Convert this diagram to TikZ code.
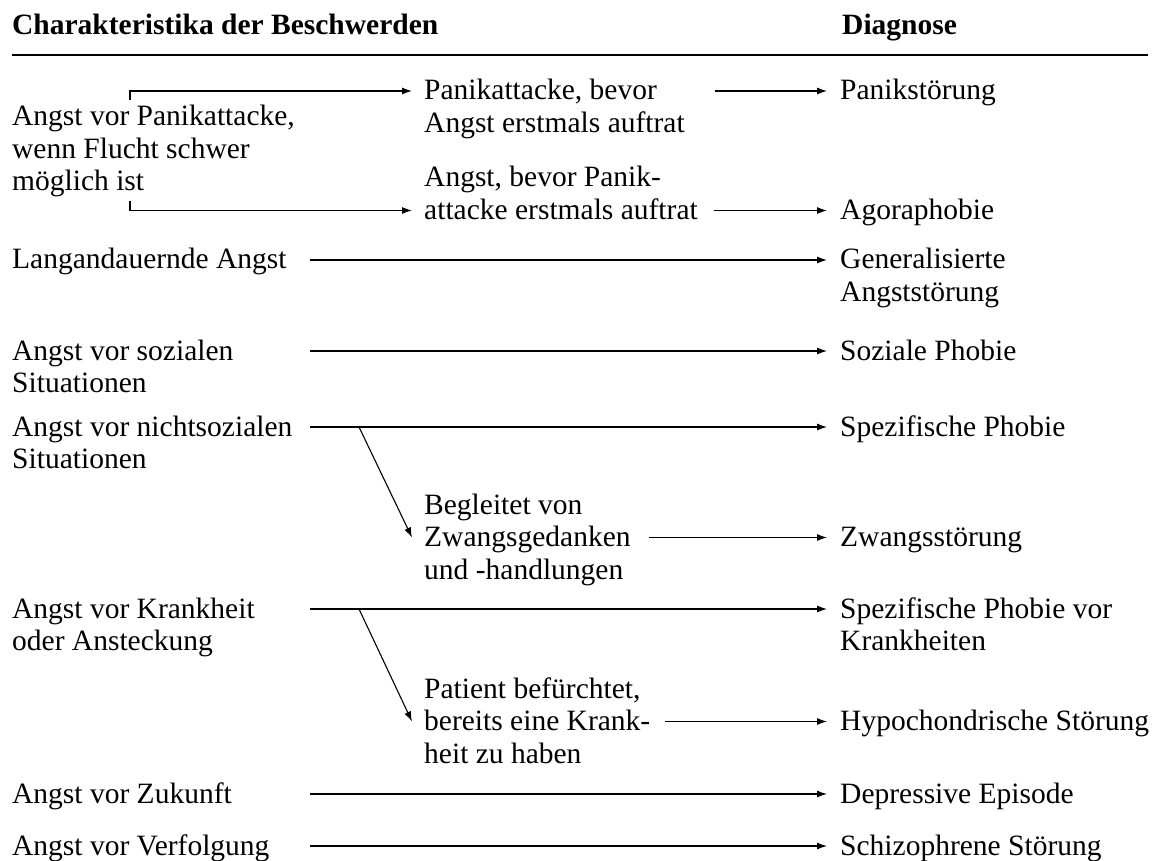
\documentclass[tikz,border=0pt]{standalone}
\usepackage{fontspec}
\setmainfont{Liberation Serif}
\usetikzlibrary{arrows.meta,calc}
\newcommand{\ml}[1]{\begin{tabular}[t]{@{}l@{}}#1\end{tabular}}
\begin{document}
\begin{tikzpicture}[x=1pt,y=-1pt,
  txt/.style={anchor=west,inner sep=0pt,text height=22pt,text depth=4pt,font=\fontsize{29.5}{32.5}\selectfont},
  hd/.style={txt,font=\fontsize{29.5}{32.5}\selectfont\bfseries},
  arr/.style={line width=1.1pt,-{Latex[length=10pt,width=7pt]}},
  rule/.style={line width=2pt}]
\useasboundingbox (0,0) rectangle (1154,861);
% header
\node[hd] (h1) at (12,26) {Charakteristika der Beschwerden};
\node[hd] (h2) at (842,26) {Diagnose};
\coordinate (r1) at (12,55);
\coordinate (r2) at (1148,55);
\draw[rule] (r1) -- (r2);
% left column
\node[txt] (L1) at (12,117) {\ml{Angst vor Panikattacke,\\wenn Flucht schwer\\möglich ist}};
\node[txt] (L2) at (12,260) {Langandauernde Angst};
\node[txt] (L3) at (12,351) {\ml{Angst vor sozialen\\Situationen}};
\node[txt] (L4) at (12,427) {\ml{Angst vor nichtsozialen\\Situationen}};
\node[txt] (L5) at (12,609) {\ml{Angst vor Krankheit\\oder Ansteckung}};
\node[txt] (L6) at (12,794) {Angst vor Zukunft};
\node[txt] (L7) at (12,846) {Angst vor Verfolgung};
% middle column
\node[txt] (M1) at (424,91) {\ml{Panikattacke, bevor\\Angst erstmals auftrat}};
\node[txt] (M2) at (424,178) {\ml{Angst, bevor Panik-\\attacke erstmals auftrat}};
\node[txt] (M3) at (424,505) {\ml{Begleitet von\\Zwangsgedanken\\und -handlungen}};
\node[txt] (M4) at (424,689) {\ml{Patient befürchtet,\\bereits eine Krank-\\heit zu haben}};
% right column
\node[txt] (R1) at (840,91) {Panikstörung};
\node[txt] (R2) at (840,210.5) {Agoraphobie};
\node[txt] (R3) at (840,260) {\ml{Generalisierte\\Angststörung}};
\node[txt] (R4) at (840,351) {Soziale Phobie};
\node[txt] (R5) at (840,427) {Spezifische Phobie};
\node[txt] (R6) at (840,537.5) {Zwangsstörung};
\node[txt] (R7) at (840,609) {\ml{Spezifische Phobie vor\\Krankheiten}};
\node[txt] (R8) at (840,721.5) {Hypochondrische Störung};
\node[txt] (R9) at (840,794) {Depressive Episode};
\node[txt] (R10) at (840,846) {Schizophrene Störung};
% helper coordinates
\coordinate (xs) at (310,0);
\coordinate (dx) at (359,0);
\coordinate (bt) at (130,100);
\coordinate (bb) at (130,201);
% connectors
\draw[arr] (bt) |- ([xshift=-12pt]M1.west);
\draw[arr] (bb) |- ($(M2.west)+(-12,32.5)$);
\draw[arr] ($(M1.east)+(30,0)$) -- ([xshift=-13pt]R1.west);
\draw[arr] ($(R2.west -| M2.east)+(16,0)$) -- ([xshift=-13pt]R2.west);
\draw[arr] (L2.east -| xs) -- ([xshift=-13pt]R3.west);
\draw[arr] (L3.east -| xs) -- ([xshift=-13pt]R4.west);
\draw[arr] (L4.east -| xs) -- ([xshift=-13pt]R5.west);
\draw[arr] (L5.east -| xs) -- ([xshift=-13pt]R7.west);
\draw[arr] (L6.east -| xs) -- ([xshift=-13pt]R9.west);
\draw[arr] (L7.east -| xs) -- ([xshift=-13pt]R10.west);
\draw[arr] (L4.east -| dx) -- ($(M3.west)+(-12,32.5)$);
\draw[arr] (L5.east -| dx) -- ($(M4.west)+(-12,32.5)$);
\draw[arr] ($(R6.west -| M3.east)+(18,0)$) -- ([xshift=-13pt]R6.west);
\draw[arr] ($(R8.west -| M4.east)+(15,0)$) -- ([xshift=-13pt]R8.west);
\end{tikzpicture}
\end{document}
